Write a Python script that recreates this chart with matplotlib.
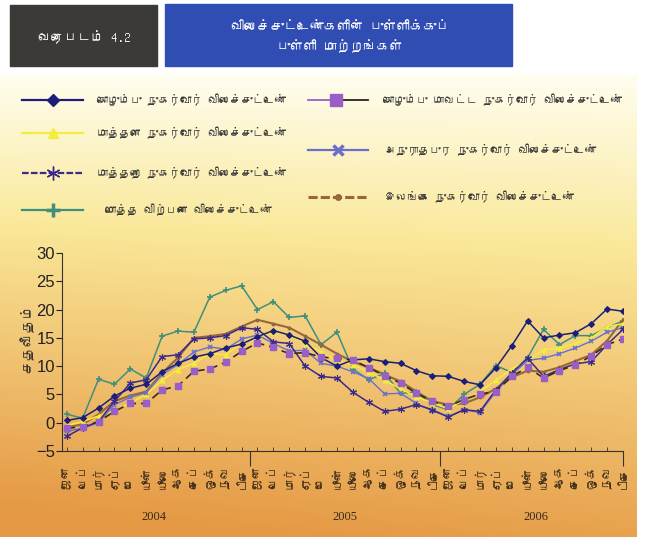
import numpy as np
import matplotlib
matplotlib.use('Agg')
import matplotlib.pyplot as plt
from matplotlib.lines import Line2D
from matplotlib.patches import Rectangle
from matplotlib import font_manager

# ---- data ----
months = ['ஜன', 'பெப்', 'மார்', 'ஏப்', 'மே', 'யூன்', 'யூலை', 'ஆக', 'செப்', 'ஒக்', 'நவ', 'டிசெ']
years = ['2004', '2005', '2006']

colombo = [0.4, 0.9, 2.6, 4.7, 6.1, 6.8, 9.0, 10.5, 11.6, 12.2, 13.2, 13.9,
           15.2, 16.3, 15.5, 14.4, 11.5, 10.0, 11.1, 11.3, 10.8, 10.5, 9.2, 8.3,
           8.2, 7.3, 6.7, 9.7, 13.6, 18.0, 15.0, 15.5, 15.9, 17.5, 20.1, 19.7]
matale = [-0.5, 0.2, 1.2, 2.0, 3.5, 5.0, 7.5, 9.4, 10.5, 12.2, 12.0, 14.0,
          15.0, 16.1, 15.5, 14.0, 12.5, 11.0, 10.2, 9.0, 7.5, 6.0, 4.6, 3.5,
          2.5, 4.0, 5.5, 7.5, 9.5, 11.0, 12.9, 13.2, 14.0, 15.0, 17.0, 17.5]
matara = [-2.4, -0.9, 0.2, 3.8, 7.0, 7.6, 11.7, 12.0, 14.8, 15.0, 15.4, 16.8,
          16.5, 14.3, 14.0, 10.0, 8.2, 7.9, 5.4, 3.6, 2.0, 2.4, 3.2, 2.3,
          1.0, 2.3, 2.0, 5.8, 8.8, 11.4, 8.2, 9.4, 10.4, 10.8, 13.8, 16.5]
wholesale = [1.5, 0.8, 7.7, 6.8, 9.5, 7.9, 15.3, 16.2, 16.0, 22.2, 23.4, 24.2,
             20.0, 21.4, 18.6, 18.9, 13.8, 16.0, 9.5, 7.6, 8.7, 5.2, 5.4, 3.2,
             2.3, 5.0, 6.8, 10.1, 8.9, 11.5, 16.5, 13.8, 15.4, 15.4, 16.8, 18.0]
colombo_district = [-1.0, -0.7, 0.2, 2.0, 3.4, 3.4, 5.8, 6.5, 9.1, 9.5, 10.7, 12.6,
                    14.1, 13.3, 12.2, 12.4, 11.6, 11.4, 11.1, 9.7, 8.3, 7.0, 5.2, 3.8,
                    2.9, 4.1, 5.1, 5.5, 8.2, 9.8, 7.9, 9.2, 10.2, 11.8, 13.8, 14.8]
anuradhapura = [-1.5, -1.0, 0.0, 3.2, 4.5, 5.3, 8.5, 10.3, 12.5, 13.4, 13.0, 14.8,
                15.5, 14.0, 12.7, 12.8, 10.5, 10.0, 9.0, 7.8, 5.1, 5.2, 3.4, 2.1,
                1.1, 2.3, 1.8, 5.5, 8.5, 11.0, 11.4, 12.2, 13.2, 14.4, 16.0, 16.8]
srilanka = [-0.8, -0.3, 1.5, 3.8, 4.8, 5.5, 8.8, 11.5, 15.0, 15.3, 15.7, 17.0,
            18.2, 17.5, 16.8, 15.3, 13.8, 12.2, 10.8, 9.8, 8.5, 7.3, 5.5, 3.8,
            3.2, 3.4, 4.5, 6.0, 8.0, 9.2, 9.0, 9.8, 10.9, 12.0, 14.5, 18.2]

names = ['கொழும்பு நுகர்வோர் விலைச்சுட்டெண்',
         'மாத்தளை நுகர்வோர் விலைச்சுட்டெண்',
         'மாத்தறை நுகர்வோர் விலைச்சுட்டெண்',
         'மொத்த விற்பனை விலைச்சுட்டெண்',
         'கொழும்பு மாவட்ட நுகர்வோர் விலைச்சுட்டெண்',
         'அநுராதபுர நுகர்வோர் விலைச்சுட்டெண்',
         'இலங்கை நுகர்வோர் விலைச்சுட்டெண்']
values = [colombo, matale, matara, wholesale, colombo_district, anuradhapura, srilanka]

title_left = 'வரைபடம் 4.2'
title_right = 'விலைச்சுட்டெண்களின் புள்ளிக்குப்\nபுள்ளி மாற்றங்கள்'
ylabel = 'சதவீதம்'


# look for any installed font that has Tamil glyphs
def tamil_font():
    try:
        from fontTools.ttLib import TTFont
    except ImportError:
        return None
    for f in font_manager.fontManager.ttflist:
        try:
            cmap = TTFont(f.fname, fontNumber=0, lazy=True).getBestCmap()
        except Exception:
            continue
        if cmap and 0x0B95 in cmap:
            return f.name
    return None


tf = tamil_font()
fam = ([tf] if tf else []) + ['Liberation Sans', 'DejaVu Sans']
plt.rcParams['font.family'] = fam

# styles: color, marker, markersize, linestyle, linewidth
styles = [
    ('#1c1f78', 'D', 3.0, '-', 1.1),
    ('#f2ee3a', '^', 3.5, '-', 1.1),
    ('#3c2a88', (6, 2, 0), 5.0, '-', 1.1),
    ('#3f8f7c', '+', 5.0, '-', 1.1),
    ('#9a5ec8', 's', 4.5, (0, (5, 3)), 1.2),
    ('#6b6fcc', 'x', 3.5, '-', 1.0),
    ('#94683c', 'o', 2.0, '-', 1.5),
]

W, H = 649, 537
fig = plt.figure(figsize=(W / 100, H / 100), dpi=100)


def fx(x):
    return x / W


def fy(y):
    return 1 - y / H


# gradient panel
bg = fig.add_axes([0, 0, fx(637), fy(74)])
t = np.linspace(0, 1, 300)[:, None]
s = np.linspace(0, 1, 200)[None, :]
k = np.clip(t + 0.15 * (0.5 - s) * t, 0, 1)[..., None]
top = np.array([1.0, 0.995, 0.94])
mid = np.array([0.98, 0.91, 0.60])
bot = np.array([0.90, 0.60, 0.27])
img = np.where(k < 0.35, top + (mid - top) * (k / 0.35),
               mid + (bot - mid) * ((k - 0.35) / 0.65))
bg.imshow(img, aspect='auto', extent=[0, 1, 0, 1])
bg.axis('off')

# header boxes
fig.add_artist(Rectangle((fx(10), fy(66)), fx(157) - fx(10), fy(5) - fy(66),
                         transform=fig.transFigure, color='#3b3a37'))
fig.add_artist(Rectangle((fx(165), fy(66)), fx(512) - fx(165), fy(4) - fy(66),
                         transform=fig.transFigure, color='#2f4db3'))
fig.text(fx(84), fy(37), title_left, color='white', fontsize=9.5,
         fontweight='bold', ha='center', va='center')
fig.text(fx(340), fy(37), title_right, color='white', fontsize=9.5,
         ha='center', va='center', linespacing=1.6)

# main plot
ax = fig.add_axes([fx(62), fy(451), fx(623) - fx(62), fy(253) - fy(451)])
ax.patch.set_alpha(0)
x = np.arange(36)
order = [3, 6, 1, 5, 2, 4, 0]
for i in order:
    c, m, ms, ls, lw = styles[i]
    if i == 4:
        ax.plot(x, values[i], color='#3a2a1e', ls=ls, lw=lw, zorder=3)
        ax.plot(x, values[i], ls='none', marker=m, ms=ms, color=c, zorder=4)
    else:
        ax.plot(x, values[i], color=c, ls=ls, lw=lw, marker=m, ms=ms,
                mew=1.2 if m in ('+', 'x') else 0.8, zorder=3)

ax.set_xlim(-0.3, 35)
ax.set_ylim(-5, 30)
ax.set_yticks(range(-5, 31, 5))
ax.tick_params(axis='y', labelsize=12, length=4, colors='#222', pad=1)
for lab in ax.get_yticklabels():
    lab.set_family(['Liberation Sans Narrow', 'Liberation Sans'])
ax.set_xticks([11.5, 23.5, 35])
ax.set_xticklabels([])
ax.set_xticks(x, minor=True)
ax.tick_params(axis='x', which='major', length=11, direction='out', color='#333')
ax.tick_params(axis='x', which='minor', length=3, direction='in', color='#333')
for sp in ['top', 'right']:
    ax.spines[sp].set_visible(False)
for sp in ['left', 'bottom']:
    ax.spines[sp].set_color('#333')

for i in range(36):
    ax.text(i, -0.19, months[i % 12], transform=ax.get_xaxis_transform(),
            rotation=90, ha='center', va='bottom', fontsize=8.5, color='#3a2a18')
for j, yr in enumerate(years):
    ax.text(5.5 + 12 * j, -0.335, yr, transform=ax.get_xaxis_transform(),
            ha='center', va='center', fontsize=9, family='Liberation Serif',
            color='#3a2a18')

fig.text(fx(27), fy(338), ylabel, rotation=90, ha='center', va='center',
         fontsize=10, color='#333')

# legend, drawn by hand like the original
left_rows = [(0, 100, 97), (1, 133, 97), (2, 173, 97), (3, 210, 105)]
right_rows = [(4, 100, 383), (5, 150, 385), (6, 197, 385)]
for rows, x0, x1 in [(left_rows, 22, 83), (right_rows, 308, 368)]:
    for i, yy, xt in rows:
        c, m, ms, ls, lw = styles[i]
        xm = (x0 + x1) / 2
        if i == 4:
            fig.add_artist(Line2D([fx(x0), fx(xm)], [fy(yy), fy(yy)], color=c,
                                  lw=1.3, transform=fig.transFigure))
            fig.add_artist(Line2D([fx(xm + 5), fx(x1)], [fy(yy), fy(yy)],
                                  color='#222', lw=1.3, transform=fig.transFigure))
            fig.add_artist(Line2D([fx(xm - 2)], [fy(yy)], marker='s', ms=9,
                                  color=c, transform=fig.transFigure))
        else:
            lls = (0, (3, 1)) if i in (2, 6) else '-'
            fig.add_artist(Line2D([fx(x0), fx(x1)], [fy(yy), fy(yy)], color=c,
                                  lw=2.2 if i == 6 else 1.6, ls=lls,
                                  transform=fig.transFigure))
            fig.add_artist(Line2D([fx(xm)], [fy(yy)], marker=m, ms=ms * 2,
                                  mew=2.5 if m in ('+', 'x') else 1,
                                  color=c, transform=fig.transFigure))
        fig.text(fx(xt), fy(yy), names[i], ha='left', va='center',
                 fontsize=8, color='#3a3a3a')

fig.savefig('out.png', dpi=100)
